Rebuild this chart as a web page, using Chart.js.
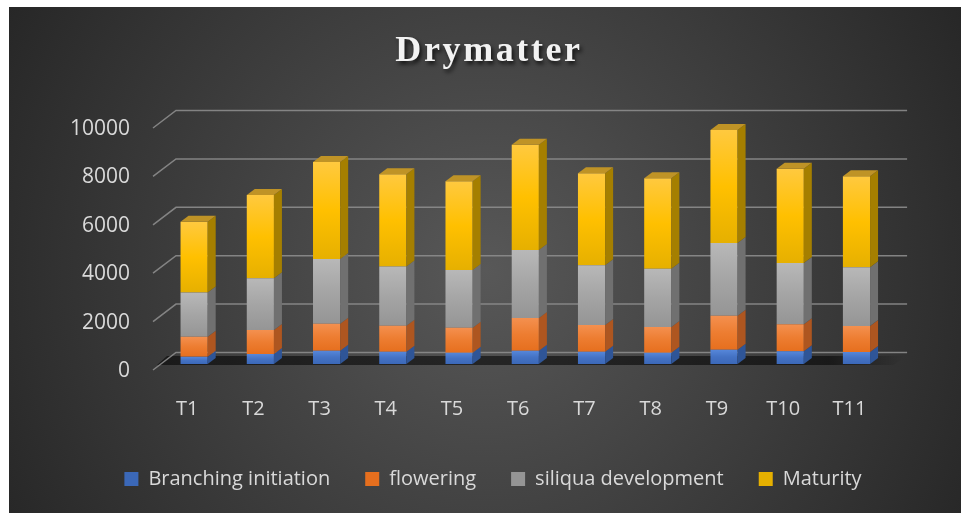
<!DOCTYPE html>
<html>
<head>
<meta charset="utf-8">
<script src="https://cdn.jsdelivr.net/npm/chart.js@4.4.1/dist/chart.umd.min.js"></script>
<style>
  html, body { margin: 0; padding: 0; background: #fff; }
  canvas { display: block; }
</style>
</head>
<body>
<canvas id="chart" width="963" height="513"></canvas>
<script>
// données
const categories = ['T1', 'T2', 'T3', 'T4', 'T5', 'T6', 'T7', 'T8', 'T9', 'T10', 'T11'];
const branching = [300, 410, 550, 510, 470, 550, 510, 470, 590, 525, 500];
const flowering = [830, 990, 1115, 1075, 1030, 1350, 1100, 1060, 1405, 1115, 1070];
const siliqua = [1820, 2140, 2675, 2440, 2385, 2810, 2470, 2410, 3005, 2535, 2425];
const maturity = [2930, 3440, 4010, 3820, 3665, 4350, 3800, 3735, 4670, 3895, 3760];
const seriesNames = ['Branching initiation', 'flowering', 'siliqua development', 'Maturity'];
const yTicks = [0, 2000, 4000, 6000, 8000, 10000];

const series = [branching, flowering, siliqua, maturity];

// couleurs : [haut, milieu, bas] pour la face avant, puis face latérale
const frontColors = [
    ['#5687da', '#4472c4', '#3b68b8'],
    ['#f4904f', '#ed7d31', '#e66f1e'],
    ['#b8b8b8', '#a5a5a5', '#959595'],
    ['#ffc93f', '#ffc000', '#e6b000']
];
const sideColors = ['#2f5597', '#ae5620', '#707070', '#a57f00'];
const topColor = '#bf9326';
const DX = 8, DY = -6;

function faceGradient(c) {
    const d = c.datasetIndex;
    const cols = frontColors[d];
    const chart = c.chart;
    if (c.type !== 'data' || !chart.chartArea || !chart.scales.y) return cols[1];
    const i = c.dataIndex;
    let base = 0;
    for (let k = 0; k < d; k++) base += series[k][i];
    const y = chart.scales.y;
    const top = y.getPixelForValue(base + series[d][i]);
    const bot = y.getPixelForValue(base);
    if (!isFinite(top) || !isFinite(bot) || top === bot) return cols[1];
    const g = chart.ctx.createLinearGradient(0, top, 0, bot);
    g.addColorStop(0, cols[0]);
    g.addColorStop(0.5, cols[1]);
    g.addColorStop(1, cols[2]);
    return g;
}

const backdrop = {
    id: 'backdrop',
    beforeDraw(chart) {
        const ctx = chart.ctx;
        ctx.save();
        ctx.fillStyle = '#fff';
        ctx.fillRect(0, 0, chart.width, chart.height);
        const g = ctx.createRadialGradient(486, 270, 0, 486, 270, 600);
        g.addColorStop(0, '#585858');
        g.addColorStop(1, '#222222');
        ctx.fillStyle = g;
        ctx.fillRect(9, 7, 952, 506);

        // titre
        ctx.font = 'bold 36px "Liberation Serif", "DejaVu Serif", serif';
        ctx.letterSpacing = '2.6px';
        ctx.textAlign = 'center';
        ctx.textBaseline = 'alphabetic';
        ctx.shadowColor = 'rgba(0,0,0,0.75)';
        ctx.shadowBlur = 4;
        ctx.shadowOffsetX = 2;
        ctx.shadowOffsetY = 3;
        ctx.fillStyle = '#f2f2f2';
        ctx.fillText('Drymatter', 489, 61);
        ctx.restore();
    },
    beforeDatasetsDraw(chart) {
        const ctx = chart.ctx;
        const {left, right} = chart.chartArea;
        const y = chart.scales.y;
        ctx.save();
        // sol sombre
        const y0 = y.getPixelForValue(0);
        const fg = ctx.createLinearGradient(left, 0, right + 14, 0);
        fg.addColorStop(0, 'rgba(0,0,0,0.55)');
        fg.addColorStop(0.9, 'rgba(0,0,0,0.55)');
        fg.addColorStop(1, 'rgba(0,0,0,0)');
        ctx.fillStyle = fg;
        ctx.beginPath();
        ctx.moveTo(left + 6, y0 - 8);
        ctx.lineTo(right + 16, y0 - 8);
        ctx.lineTo(right + 4, y0 + 1);
        ctx.lineTo(left - 4, y0 + 1);
        ctx.closePath();
        ctx.fill();
        // grille du fond
        ctx.strokeStyle = 'rgba(140,140,140,0.9)';
        ctx.lineWidth = 1.5;
        yTicks.forEach(v => {
            const p = y.getPixelForValue(v);
            ctx.beginPath();
            ctx.moveTo(left - 8, p + 6);
            ctx.lineTo(left + 15, p - 11.5);
            ctx.lineTo(right + 17.5, p - 11.5);
            ctx.stroke();
        });
        ctx.restore();
    },
    afterDatasetsDraw(chart) {
        const ctx = chart.ctx;
        ctx.save();
        const last = chart.data.datasets.length - 1;
        chart.data.datasets.forEach((ds, d) => {
            const meta = chart.getDatasetMeta(d);
            meta.data.forEach(bar => {
                const r = bar.x + bar.width / 2;
                const l = bar.x - bar.width / 2;
                const top = bar.y, bot = bar.base;
                ctx.fillStyle = sideColors[d];
                ctx.beginPath();
                ctx.moveTo(r, top);
                ctx.lineTo(r + DX, top + DY);
                ctx.lineTo(r + DX, bot + DY);
                ctx.lineTo(r, bot);
                ctx.closePath();
                ctx.fill();
                if (d === last) {
                    ctx.fillStyle = topColor;
                    ctx.beginPath();
                    ctx.moveTo(l, top);
                    ctx.lineTo(l + DX, top + DY);
                    ctx.lineTo(r + DX, top + DY);
                    ctx.lineTo(r, top);
                    ctx.closePath();
                    ctx.fill();
                }
            });
        });
        ctx.restore();
    }
};

const datasets = series.map((vals, d) => ({
    label: seriesNames[d],
    data: vals,
    backgroundColor: faceGradient,
    borderWidth: 0,
    barPercentage: 0.41,
    categoryPercentage: 1
}));

new Chart(document.getElementById('chart'), {
    type: 'bar',
    data: { labels: categories, datasets },
    plugins: [backdrop],
    options: {
        responsive: false,
        animation: false,
        layout: { padding: { left: 23, right: 0, top: 122, bottom: 14 } },
        scales: {
            x: {
                stacked: true,
                grid: { display: false, drawTicks: false },
                border: { display: false },
                ticks: {
                    color: '#d9d9d9',
                    font: { family: '"Open Sans", sans-serif', size: 20 },
                    padding: 33,
                    labelOffset: -7,
                    maxRotation: 0
                },
                afterFit(s) { s.height = 70; }
            },
            y: {
                stacked: true,
                min: 0,
                max: 10000,
                grid: { display: false, drawTicks: false },
                border: { display: false },
                ticks: {
                    stepSize: 2000,
                    color: '#d9d9d9',
                    font: { family: '"Open Sans", sans-serif', size: 21 },
                    padding: 31,
                    labelOffset: 7,
                    callback: v => String(v)
                },
                afterFit(s) { s.width = 138; }
            },
            y2: {
                position: 'right',
                display: true,
                grid: { display: false, drawTicks: false },
                border: { display: false },
                ticks: { display: false },
                afterFit(s) { s.width = 73.4; }
            }
        },
        plugins: {
            title: { display: false },
            tooltip: { enabled: false },
            legend: {
                position: 'bottom',
                labels: {
                    color: '#d9d9d9',
                    font: { family: '"Open Sans", sans-serif', size: 20 },
                    boxWidth: 14,
                    boxHeight: 14,
                    padding: 35
                }
            }
        }
    }
});
</script>
</body>
</html>
